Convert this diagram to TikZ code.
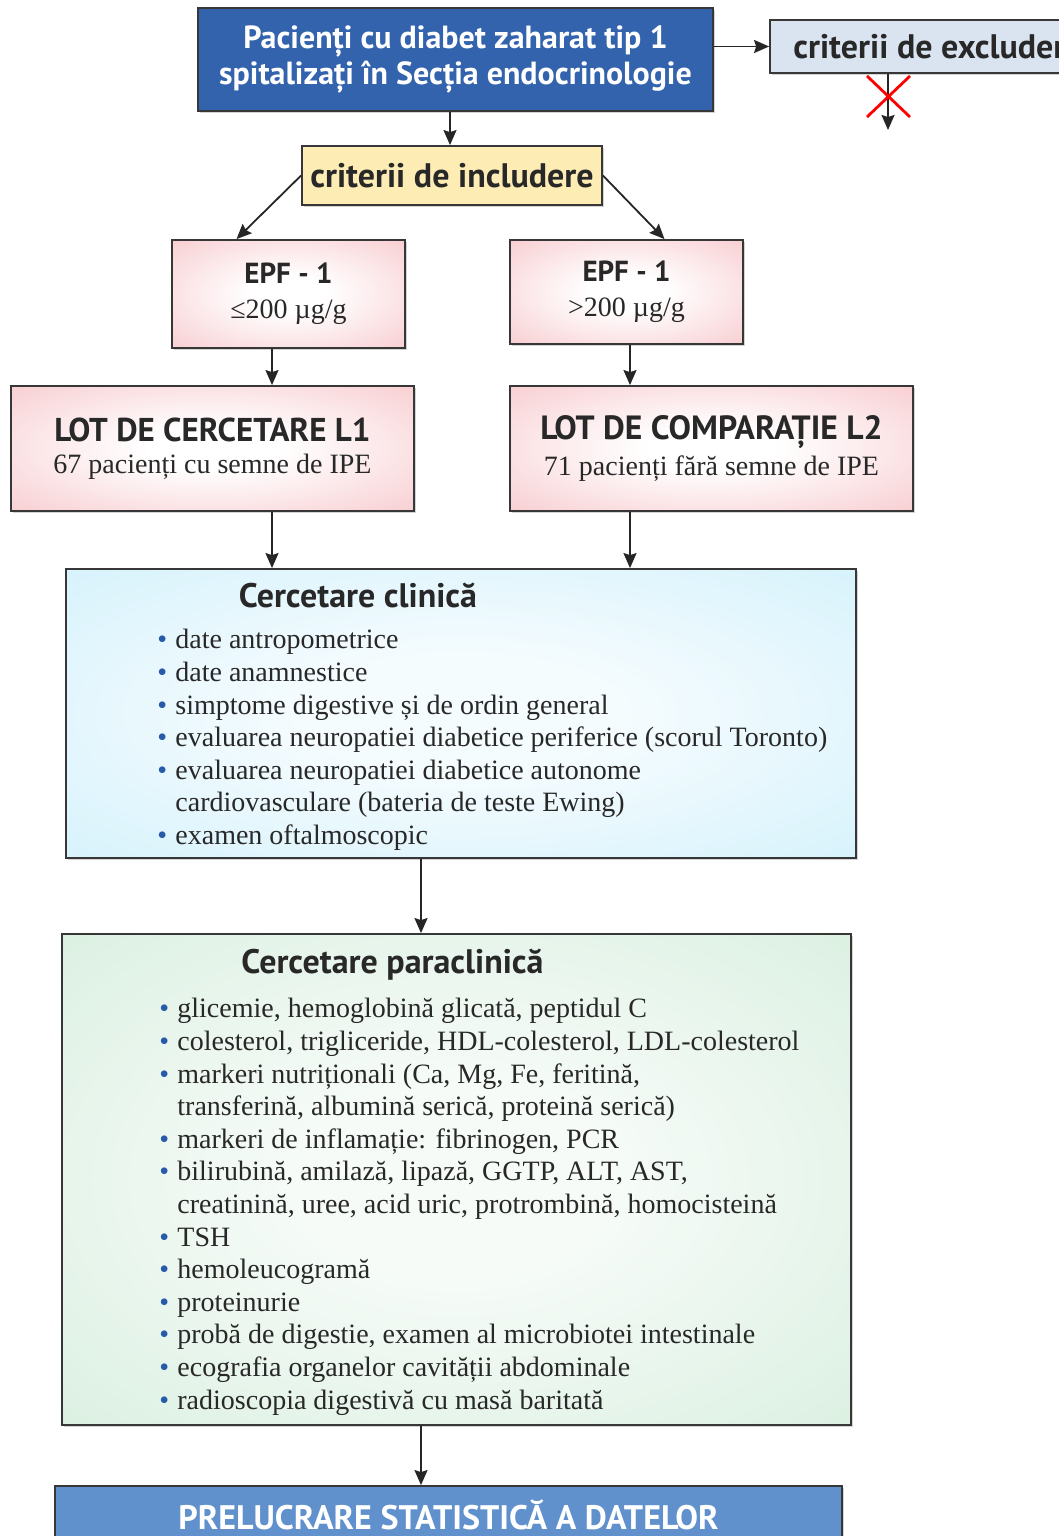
\documentclass[tikz,border=0pt]{standalone}
\usepackage{fontspec}
\setmainfont{Liberation Serif}
\newfontfamily\hdfont{PT Sans}
\usepackage{tikz}
\usetikzlibrary{arrows.meta,shadows}

\definecolor{topblue}{RGB}{50,99,172}
\definecolor{statblue}{RGB}{96,145,204}
\definecolor{exclgrey}{RGB}{218,227,240}
\definecolor{inclyellow}{RGB}{253,236,180}
\definecolor{pinkedge}{RGB}{246,192,197}
\definecolor{cyanedge}{RGB}{204,239,251}
\definecolor{greenedge}{RGB}{210,236,218}
\definecolor{boxline}{RGB}{55,55,55}
\definecolor{bulblue}{RGB}{40,90,170}
\definecolor{textgrey}{RGB}{40,40,40}

\pgfdeclareradialshading{pinkshade}{\pgfpoint{0bp}{0bp}}{color(0bp)=(white); color(8bp)=(white); color(44bp)=(pinkedge); color(50bp)=(pinkedge)}
\pgfdeclareradialshading{cyanshade}{\pgfpoint{0bp}{0bp}}{color(0bp)=(white!80!cyanedge); color(10bp)=(white!80!cyanedge); color(45bp)=(cyanedge); color(50bp)=(cyanedge)}
\pgfdeclareradialshading{greenshade}{\pgfpoint{0bp}{0bp}}{color(0bp)=(white!80!greenedge); color(10bp)=(white!80!greenedge); color(45bp)=(greenedge); color(50bp)=(greenedge)}

\newcommand{\hdbig}{\hdfont\bfseries\fontsize{17}{20}\selectfont}
\newcommand{\hdtop}{\hdfont\bfseries\fontsize{16}{18}\selectfont}
\newcommand{\hdsmall}{\hdfont\bfseries\fontsize{14.5}{18}\selectfont}
\newcommand{\bodysz}{\fontsize{14}{16}\selectfont}
\newcommand{\bul}{\makebox[9pt][l]{\textcolor{bulblue}{\textbullet}}}
\newcommand{\cont}{\hspace*{9pt}}

\begin{document}
\begin{tikzpicture}[x=0.5pt,y=-0.5pt,
    box/.style={draw=boxline,line width=0.9pt,inner sep=0pt,align=center,
      drop shadow={shadow xshift=0.8pt,shadow yshift=-0.8pt,opacity=0.35}},
    body/.style={font=\fontsize{14}{16.3}\selectfont},
    pinkbox/.style={box,shading=pinkshade,text=textgrey},
    arr/.style={-{Stealth[length=7.5pt,width=6.5pt,inset=1pt]},line width=0.9pt,draw=black!85}]
  \clip (0,0) rectangle (1059,1536);
  \coordinate (colL) at (272,0);
  \coordinate (colR) at (630,0);
  \coordinate (colM) at (421,0);
  \coordinate (colI) at (450,0);
  \coordinate (colX) at (888,0);

  % boxes
  \node[box,fill=topblue,text=white,font=\hdtop,minimum width=257.5pt,minimum height=51.5pt] (top) at (455.5,59.5)
    {Pacienți cu diabet zaharat tip 1\\spitalizați în Secția endocrinologie};
  \node[box,fill=exclgrey,text=textgrey,font=\hdbig,minimum width=168pt,minimum height=26.5pt] (excl) at (938,46.5)
    {criterii de excludere};
  \node[box,fill=inclyellow,text=textgrey,font=\hdbig,minimum width=150pt,minimum height=29.5pt] (incl) at (452,175.5)
    {criterii de includere};
  \node[pinkbox,minimum width=116.5pt,minimum height=54pt] (epfL) at (288.5,294)
    {{\hdsmall EPF - 1}\\[5.5pt]{\bodysz ≤200 µg/g}};
  \node[pinkbox,minimum width=116.5pt,minimum height=52pt] (epfR) at (626.5,292)
    {{\hdsmall EPF - 1}\\[5.5pt]{\bodysz >200 µg/g}};
  \node[pinkbox,minimum width=201.5pt,minimum height=62.5pt] (lotL) at (212.5,448.5)
    {{\hdfont\bfseries\fontsize{16.5}{18}\selectfont LOT DE CERCETARE L1}\\[4pt]{\bodysz 67 pacienți cu semne de IPE}};
  \node[pinkbox,minimum width=201.5pt,minimum height=62.5pt] (lotR) at (711.5,448.5)
    {{\hdfont\bfseries\fontsize{16.8}{18}\selectfont LOT DE COMPARAȚIE L2}\\[3pt]{\bodysz 71 pacienți fără semne de IPE}};
  \node[box,shading=cyanshade,minimum width=395pt,minimum height=144.5pt] (clin) at (461,713.5) {};
  \node[box,shading=greenshade,minimum width=394.5pt,minimum height=245.5pt] (para) at (456.5,1179.5) {};
  \node[box,fill=statblue,text=white,font=\hdbig,minimum width=393.5pt,minimum height=29pt] (stat) at (448.5,1515)
    {PRELUCRARE STATISTICĂ A DATELOR};

  % clinical list
  \node[font=\hdbig,text=textgrey] (clinhd) at (358,595) {Cercetare clinică};
  \node[body,anchor=north west,align=left,inner sep=0pt,text=textgrey] (clinlist) at (157,629) {%
    \bul date antropometrice\\
    \bul date anamnestice\\
    \bul simptome digestive și de ordin general\\
    \bul evaluarea neuropatiei diabetice periferice (scorul Toronto)\\
    \bul evaluarea neuropatiei diabetice autonome\\
    \cont cardiovasculare (bateria de teste Ewing)\\
    \bul examen oftalmoscopic};

  % paraclinical list
  \node[font=\hdbig,text=textgrey] (parahd) at (392.5,965) {Cercetare paraclinică};
  \node[body,anchor=north west,align=left,inner sep=0pt,text=textgrey] (paralist) at (159,998) {%
    \bul glicemie, hemoglobină glicată, peptidul C\\
    \bul colesterol, trigliceride, HDL-colesterol, LDL-colesterol\\
    \bul markeri nutriționali (Ca, Mg, Fe, feritină,\\
    \cont transferină, albumină serică, proteină serică)\\
    \bul markeri de inflamație: fibrinogen, PCR\\
    \bul bilirubină, amilază, lipază, GGTP, ALT, AST,\\
    \cont creatinină, uree, acid uric, protrombină, homocisteină\\
    \bul TSH\\
    \bul hemoleucogramă\\
    \bul proteinurie\\
    \bul probă de digestie, examen al microbiotei intestinale\\
    \bul ecografia organelor cavității abdominale\\
    \bul radioscopia digestivă cu masă baritată};

  % connectors
  \coordinate (xend) at (888,130);
  \draw[arr] (top.east |- excl.west) -- (excl.west);
  \draw[arr] (excl.south -| colX) -- (xend);
  \draw[red,line width=1.4pt] (867,76) -- (910,117) (867,117) -- (910,76);
  \draw[arr] (top.south -| colI) -- (incl.north -| colI);
  \draw[arr] (incl.west) -- ([xshift=-26pt]epfL.north);
  \draw[arr] (incl.east) -- ([xshift=19pt]epfR.north);
  \draw[arr] (epfL.south -| colL) -- (lotL.north -| colL);
  \draw[arr] (epfR.south -| colR) -- (lotR.north -| colR);
  \draw[arr] (lotL.south -| colL) -- (clin.north -| colL);
  \draw[arr] (lotR.south -| colR) -- (clin.north -| colR);
  \draw[arr] (clin.south -| colM) -- (para.north -| colM);
  \draw[arr] (para.south -| colM) -- (stat.north -| colM);
\end{tikzpicture}
\end{document}
